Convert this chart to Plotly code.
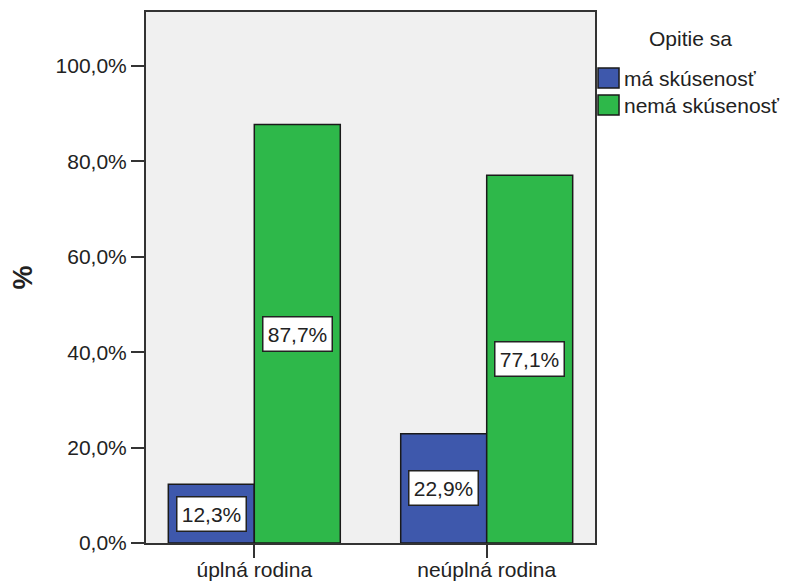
import plotly.graph_objects as go

categories = ["úplná rodina", "neúplná rodina"]
series_names = ["má skúsenosť", "nemá skúsenosť"]
series_values = [
    [12.3, 22.9],   # má skúsenosť
    [87.7, 77.1],   # nemá skúsenosť
]
series_colors = ["#3E58AC", "#2EB84A"]
y_tick_vals = [0, 20, 40, 60, 80, 100]
y_tick_text = ["0,0%", "20,0%", "40,0%", "60,0%", "80,0%", "100,0%"]
legend_title = "Opitie sa"
y_title = "%"

FONT = "Liberation Sans, Arial, sans-serif"
FS = 21
BARGAP = 0.26

fig = go.Figure()
for name, vals, col in zip(series_names, series_values, series_colors):
    fig.add_trace(go.Bar(
        x=categories, y=vals, name=name,
        marker=dict(color=col, line=dict(color="#1a1a1a", width=1.5)),
        showlegend=False,
    ))

# value labels in boxes, centred in each bar
n = len(series_names)
bw = (1 - BARGAP) / n
annotations = []
for si, vals in enumerate(series_values):
    off = -(1 - BARGAP) / 2 + bw * (si + 0.5)
    for ci, v in enumerate(vals):
        annotations.append(dict(
            x=ci + off, y=v / 2, xref="x", yref="y",
            text=f"{v:.1f}%".replace(".", ","), showarrow=False,
            font=dict(family=FONT, size=FS, color="#222"),
            bgcolor="white", bordercolor="#222", borderwidth=1.5,
            borderpad=1, width=66, height=31,
        ))

# y-axis title
annotations.append(dict(
    x=-0.274, y=0.5, xref="paper", yref="paper", text="<b>" + y_title + "</b>",
    textangle=-90, showarrow=False, xanchor="center", yanchor="middle",
    font=dict(family=FONT, size=27, color="#222"),
))

# custom legend
annotations.append(dict(
    x=1.212, y=0.95, xref="paper", yref="paper", text=legend_title,
    showarrow=False, xanchor="center", yanchor="middle",
    font=dict(family=FONT, size=FS, color="#222"),
))
shapes = []
sw_x0, sw_x1 = 1.0067, 1.0535
row_tops = [0.8945, 0.8437]
row_h = 0.0377
for name, col, top in zip(series_names, series_colors, row_tops):
    shapes.append(dict(type="rect", xref="paper", yref="paper",
                       x0=sw_x0, x1=sw_x1, y0=top - row_h, y1=top,
                       fillcolor=col, line=dict(color="#1a1a1a", width=1.5)))
    annotations.append(dict(
        x=1.06, y=top - row_h / 2, xref="paper", yref="paper", text=name,
        showarrow=False, xanchor="left", yanchor="middle",
        font=dict(family=FONT, size=FS, color="#222"),
    ))

# page body has an 8px margin, so the figure is 8px smaller than the window
fig.update_layout(
    width=780, height=573,
    margin=dict(l=138, r=193, t=4, b=38, autoexpand=False),
    paper_bgcolor="white", plot_bgcolor="#F0F0F0",
    barmode="group", bargap=BARGAP, bargroupgap=0,
    font=dict(family=FONT, size=FS, color="#222"),
    annotations=annotations, shapes=shapes,
    showlegend=False,
)
fig.update_xaxes(
    range=[-0.466, 1.466], showgrid=False, automargin=False,
    showline=True, linecolor="#333", linewidth=2, mirror=True,
    ticks="outside", ticklen=13, tickwidth=2, tickcolor="#333",
    ticklabelstandoff=-6,
    tickfont=dict(family=FONT, size=FS, color="#222"),
)
fig.update_yaxes(
    range=[0, 111.3], showgrid=False, zeroline=False, automargin=False,
    tickvals=y_tick_vals, ticktext=y_tick_text,
    showline=True, linecolor="#333", linewidth=2, mirror=True,
    ticks="outside", ticklen=13, tickwidth=2, tickcolor="#333",
    tickfont=dict(family=FONT, size=FS, color="#222"),
)

fig.write_html("out.html")
